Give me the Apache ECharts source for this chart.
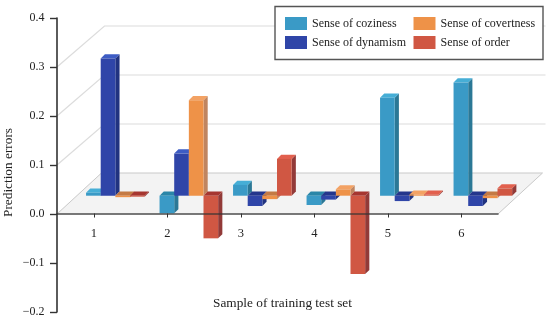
<!DOCTYPE html>
<html>
<head>
<meta charset="utf-8">
<style>html,body{margin:0;padding:0;background:#fff}#c{width:550px;height:320px}</style>
<script src="https://cdn.jsdelivr.net/npm/echarts@6/dist/echarts.min.js"></script>
</head>
<body>
<div id="c"></div>
<script>
var categories = ['1', '2', '3', '4', '5', '6'];
var yTicks = [0.1, 0.2, 0.3];
var coziness   = [0.006, -0.036, 0.022, -0.019, 0.200, 0.231];
var dynamism   = [0.280, 0.086, -0.021, -0.008, -0.011, -0.021];
var covertness = [-0.003, 0.195, -0.007, 0.013, 0.002, -0.005];
var order      = [-0.002, -0.087, 0.075, -0.160, 0.002, 0.015];

var FONT = '"Liberation Serif", "Times New Roman", serif';
var DEPTH_X = 44.5, DEPTH_Y = 41;     // floor depth in pixels
var WALL_X = 47.5;                     // wall grid lines depth in pixels
var PLANE_X = 21.6, PLANE_Y = 18.3;   // plane on which bars stand
var SIDE = 4.2;                        // bar depth in pixels

var styles = [
  {name: 'Sense of coziness',   values: coziness,   front: '#3a9ac6', side: '#2b7896', top: '#46aed6', under: '#2a86a8'},
  {name: 'Sense of dynamism',   values: dynamism,   front: '#2f45a8', side: '#213380', top: '#3d5cc4', under: '#24368c'},
  {name: 'Sense of covertness', values: covertness, front: '#ee9248', side: '#c08560', top: '#f3a264', under: '#c47a44'},
  {name: 'Sense of order',      values: order,      front: '#d05743', side: '#923a38', top: '#e2604e', under: '#a63630'}
];

function bar(si) {
  return function (params, api) {
    var s = styles[si];
    var idx = api.value(0), v = api.value(1);
    var band = api.size([1, 0])[0];
    var w = band * 0.1993;
    var c0 = api.coord([idx, 0]), c1 = api.coord([idx, v]);
    var x0 = c0[0] + PLANE_X + (si - 2) * w;
    var yBase = c0[1] - PLANE_Y;
    var yVal = yBase - (c0[1] - c1[1]);
    var yTop = Math.min(yBase, yVal), yBot = Math.max(yBase, yVal);
    var x1 = x0 + w;
    function poly(pts, color) {
      return {type: 'polygon', shape: {points: pts}, style: {fill: color}};
    }
    return {
      type: 'group',
      children: [
        poly([[x1, yTop], [x1 + SIDE, yTop - SIDE], [x1 + SIDE, yBot - SIDE], [x1, yBot]], s.side),
        poly([[x0, yTop], [x1, yTop], [x1 + SIDE, yTop - SIDE], [x0 + SIDE, yTop - SIDE]], v < 0 ? s.under : s.top),
        poly([[x0, yTop], [x1, yTop], [x1, yBot], [x0, yBot]], s.front)
      ]
    };
  };
}

function room(params, api) {
  var left = api.coord([0, 0])[0] - api.size([1, 0])[0] / 2;
  var right = api.coord([categories.length - 1, 0])[0] + api.size([1, 0])[0] / 2;
  var y0 = api.coord([0, 0])[1];
  var kids = [{
    type: 'polygon',
    shape: {points: [[left, y0], [right, y0], [right + DEPTH_X, y0 - DEPTH_Y], [left + DEPTH_X, y0 - DEPTH_Y]]},
    style: {fill: '#f3f3f3', stroke: '#c9c9c9', lineWidth: 1}
  }];
  yTicks.forEach(function (t) {
    var y = api.coord([0, t])[1];
    kids.push({type: 'polyline',
      shape: {points: [[left, y], [left + WALL_X, y - DEPTH_Y], [right + WALL_X, y - DEPTH_Y]]},
      style: {fill: 'none', stroke: '#dcdcdc', lineWidth: 1.2}});
  });
  return {type: 'group', children: kids};
}

var series = [{
  type: 'custom', name: 'room', silent: true, z: 1, clip: false,
  data: [[0, 0]], renderItem: room, encode: {x: 0, y: 1}
}];
styles.forEach(function (s, si) {
  series.push({
    type: 'custom', name: s.name, z: 2 + si, clip: false,
    itemStyle: {color: s.front},
    data: s.values.map(function (v, i) { return [i, v]; }),
    renderItem: bar(si), encode: {x: 0, y: 1}
  });
});

var legendText = {fontFamily: FONT, fontSize: 12, color: '#222'};
var legendBase = {top: 17, padding: 0, orient: 'vertical', icon: 'rect', itemWidth: 22, itemHeight: 13, itemGap: 6, z: 20, selectedMode: false, textStyle: legendText};
var option = {
  animation: false,
  backgroundColor: '#fff',
  grid: {left: 57, right: 52, top: 18, bottom: 8, outerBoundsMode: 'none'},
  xAxis: {
    type: 'category', data: categories, z: 10, offset: -98.5,
    axisLine: {onZero: false, lineStyle: {color: '#333', width: 1.6, opacity: 0.8}},
    axisTick: {show: true, alignWithLabel: true, length: 4, lineStyle: {color: '#333', width: 1}},
    axisLabel: {fontFamily: FONT, fontSize: 12.5, color: '#222', margin: 14},
    name: 'Sample of training test set', nameLocation: 'middle', nameGap: 84,
    nameTextStyle: {fontFamily: FONT, fontSize: 13.3, color: '#222', padding: [0, 0, 0, 10]}
  },
  yAxis: {
    type: 'value', min: -0.2, max: 0.4, interval: 0.1, z: 10,
    splitLine: {show: false},
    axisLine: {show: true, lineStyle: {color: '#333', width: 1.6}},
    axisTick: {show: true, length: 7, lineStyle: {color: '#333', width: 1.4}},
    axisLabel: {fontFamily: FONT, fontSize: 12, color: '#222', margin: 12.5,
      formatter: function (v) { return v.toFixed(1).replace('-', '\u2212'); }},
    name: 'Prediction errors', nameLocation: 'middle', nameGap: 42, nameRotate: 90, nameMoveOverlap: false,
    nameTextStyle: {fontFamily: FONT, fontSize: 13.3, color: '#222', padding: [0, 15, 0, 0]}
  },
  legend: [
    Object.assign({left: 285, data: ['Sense of coziness', 'Sense of dynamism']}, legendBase),
    Object.assign({left: 413.5, data: ['Sense of covertness', 'Sense of order']}, legendBase)
  ],
  graphic: [{
    type: 'rect', z: 15, silent: true,
    shape: {x: 275, y: 6.5, width: 268, height: 53},
    style: {fill: '#fff', stroke: '#555', lineWidth: 1.4}
  }],
  series: series
};
var chart = echarts.init(document.getElementById('c'), null, {renderer: 'canvas'});
chart.setOption(option);
</script>
</body>
</html>
